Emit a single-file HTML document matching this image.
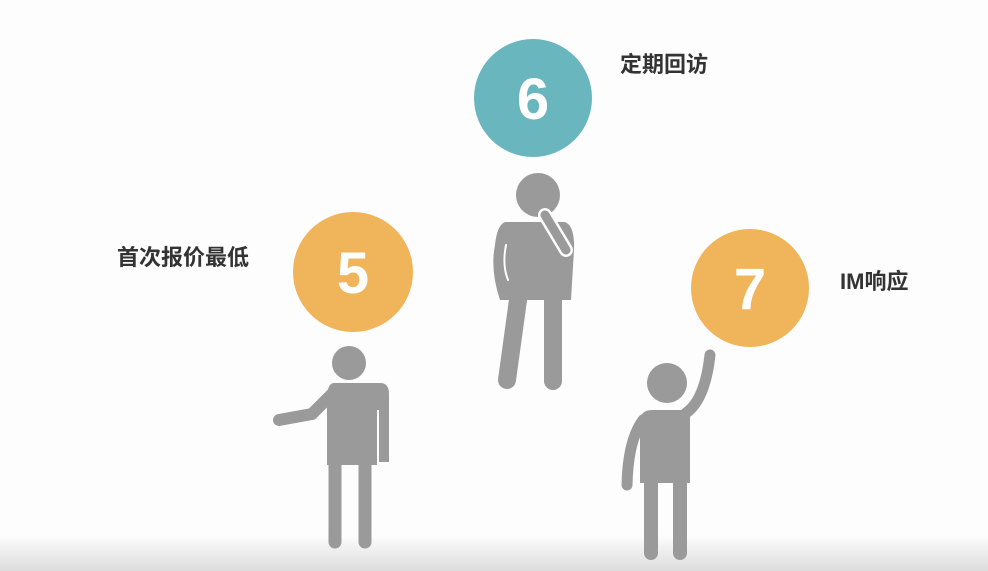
<!DOCTYPE html>
<html><head><meta charset="utf-8"><style>
html,body{margin:0;padding:0;width:988px;height:571px;overflow:hidden;background:#fdfdfd}
.t{position:absolute;font-family:"Liberation Sans","Noto Sans CJK SC",sans-serif;font-weight:bold;font-size:22px;line-height:26px;color:#333}
</style></head><body>
<svg width="988" height="571" style="position:absolute;left:0;top:0">
<defs><linearGradient id="g" x1="0" y1="0" x2="0" y2="1"><stop offset="0" stop-color="#fdfdfd"/><stop offset="1" stop-color="#dcdcdc"/></linearGradient></defs>
<rect x="0" y="535" width="988" height="36" fill="url(#g)"/>
<g fill="#9a9a9a" stroke="#9a9a9a" stroke-linecap="round" stroke-linejoin="round">
<circle cx="349" cy="363" r="17" stroke="none"/>
<path d="M334 383 H380 Q389 383 389 394 V462 H378 V465 H327 V400 Q327 383 334 383 Z" stroke="none"/>
<path d="M378 410 V465" fill="none" stroke="#fdfdfd" stroke-width="2" stroke-linecap="butt"/>
<path d="M334 392 L312 414 L279 420" fill="none" stroke-width="12"/>
<line x1="335" y1="460" x2="335" y2="542" stroke-width="13"/>
<line x1="365" y1="460" x2="365" y2="542" stroke-width="13"/>
</g>
<g fill="#9a9a9a" stroke="#9a9a9a" stroke-linecap="round" stroke-linejoin="round">
<circle cx="538" cy="195" r="22" stroke="none"/>
<path d="M505 222 H565 Q575 226 574 250 L571 300 H500 Q490 270 495 245 Q497 225 505 222 Z" stroke="none"/>
<path d="M518 300 L507 380" fill="none" stroke-width="18"/>
<path d="M553 300 L553 381" fill="none" stroke-width="18"/>
<path d="M566 250 L545 215" fill="none" stroke="#fdfdfd" stroke-width="14"/>
<path d="M566 250 L545 215" fill="none" stroke-width="9"/>
<path d="M506 245 Q502 265 508 280" fill="none" stroke="#fdfdfd" stroke-width="2"/>
</g>
<g fill="#9a9a9a" stroke="#9a9a9a" stroke-linecap="round" stroke-linejoin="round">
<circle cx="667" cy="383" r="20" stroke="none"/>
<path d="M652 410 H690 V483 H640 V422 Q640 410 652 410 Z" stroke="none"/>
<path d="M686 413 Q705 400 710 355" fill="none" stroke-width="11"/>
<path d="M643 420 Q628 440 627 485" fill="none" stroke-width="11"/>
<line x1="651" y1="478" x2="651" y2="553" stroke-width="14"/>
<line x1="680" y1="478" x2="680" y2="553" stroke-width="14"/>
</g>
<g>
<circle cx="533" cy="98" r="59" fill="#6ab6bf"/>
<text x="533" y="119" text-anchor="middle" font-family="Liberation Sans,sans-serif" font-weight="bold" font-size="58" fill="#fff">6</text>
</g>
<g>
<circle cx="353" cy="272" r="60" fill="#f0b45a"/>
<text x="353" y="293" text-anchor="middle" font-family="Liberation Sans,sans-serif" font-weight="bold" font-size="58" fill="#fff">5</text>
</g>
<g>
<circle cx="750" cy="288" r="59" fill="#f0b45a"/>
<text x="750" y="309" text-anchor="middle" font-family="Liberation Sans,sans-serif" font-weight="bold" font-size="58" fill="#fff">7</text>
</g>
</svg>
<div class="t" style="left:620px;top:52px">定期回访</div>
<div class="t" style="left:117px;top:245px">首次报价最低</div>
<div class="t" style="left:840px;top:269px">IM响应</div>
</body></html>
